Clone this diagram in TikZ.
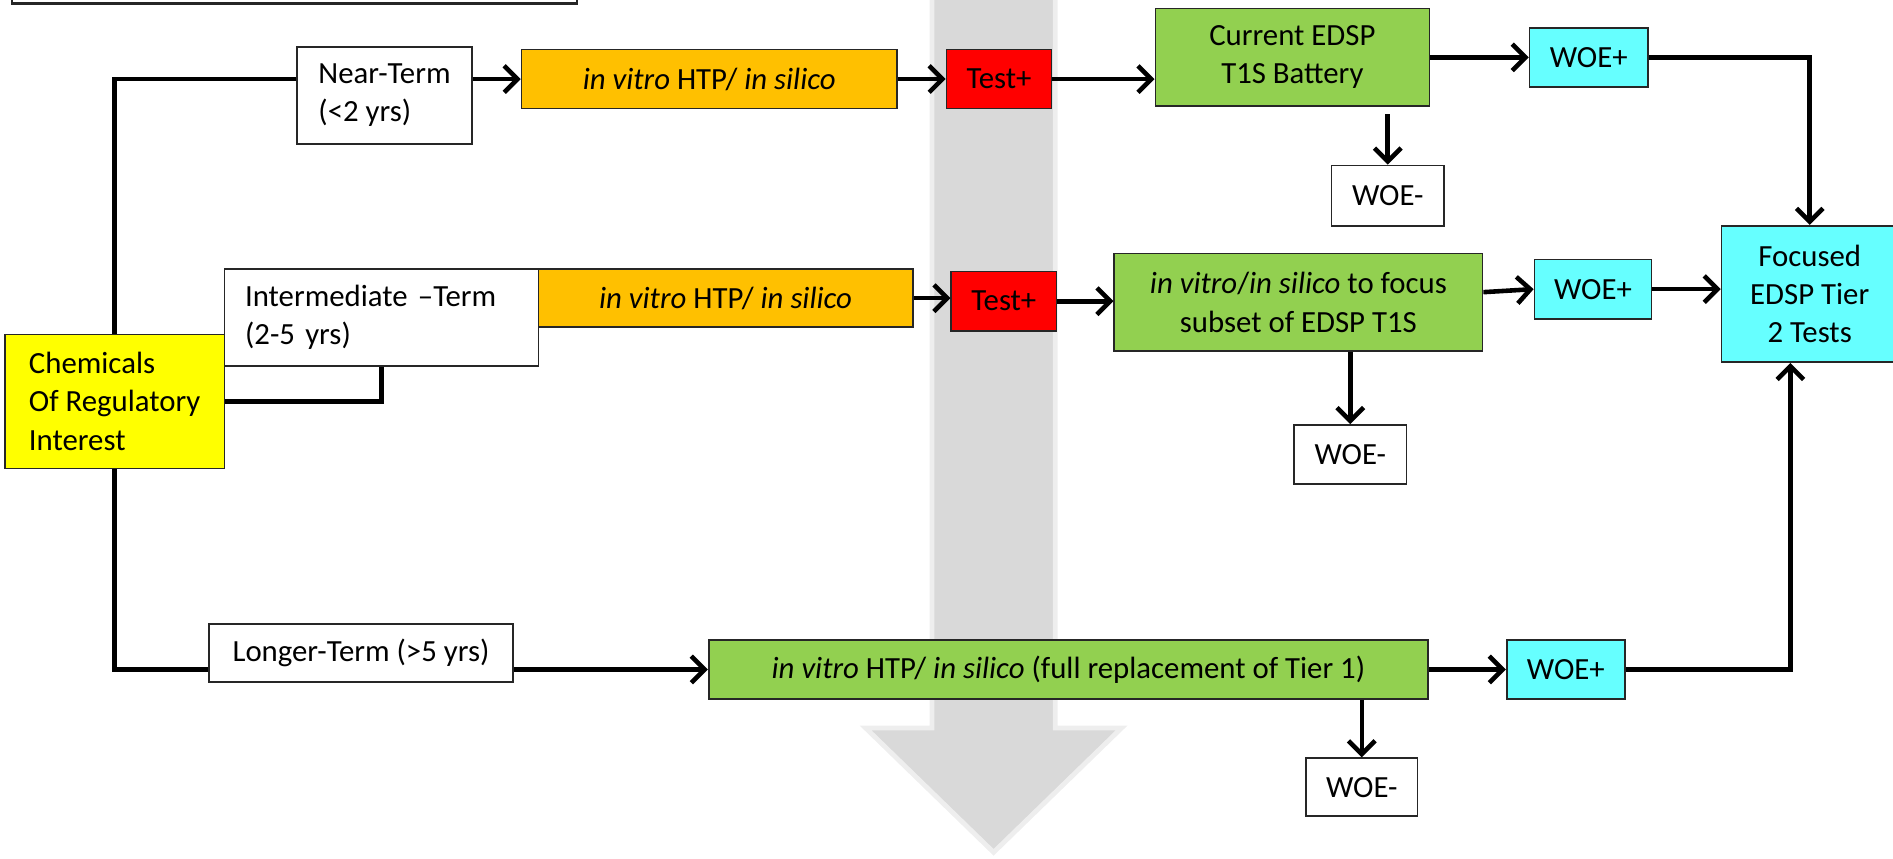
\documentclass[tikz,border=0pt]{standalone}
\usepackage{fontspec}
\setmainfont{Carlito}
\usetikzlibrary{arrows.meta,calc}
\definecolor{cyel}{HTML}{FFFF00}
\definecolor{corg}{HTML}{FFC000}
\definecolor{cred}{HTML}{FF0000}
\definecolor{cgrn}{HTML}{92D050}
\definecolor{ccyn}{HTML}{66FFFF}
\definecolor{cgry}{HTML}{D9D9D9}
\definecolor{cgryb}{HTML}{EEEEEE}
\begin{document}
\begin{tikzpicture}[x=0.5pt,y=-0.5pt,
  box/.style={draw=black!85, line width=0.7pt, inner sep=0pt, align=center, font=\fontsize{12.75}{15.8}\selectfont},
  arr/.style={line width=1.9pt, -{Straight Barb[length=5.5pt,width=11pt]}},
  ln/.style={line width=1.9pt},
  bigarrow/.style={fill=cgry, draw=cgryb, line width=2pt},
]
\useasboundingbox (0,0) rectangle (1568,711);
\clip (0,0) rectangle (1568,711);
% background gray arrow
\draw[bigarrow] (772,-20) -- (772,603) -- (717,603) -- (823,706) -- (929,603) -- (874,603) -- (874,-20) -- cycle;
% partial box at the top
\draw[line width=1pt, draw=black!85] (10,-20) rectangle (478,3);

% nodes
\node[box, fill=cyel, minimum width=91pt, minimum height=55.5pt, align=left] (chem) at (95,332.5) {Chemicals\\Of Regulatory\\Interest};
\node[box, fill=white, minimum width=72.5pt, minimum height=40pt, align=left] (near) at (318.5,79) {Near-Term\\(<2 yrs)};
\node[box, fill=corg, minimum width=155.5pt, minimum height=24.5pt] (or1) at (587.5,65.5) {\textit{in vitro} HTP/ \textit{in silico}};
\node[box, fill=cred, minimum width=43.5pt, minimum height=24.5pt] (t1) at (827.5,65.5) {Test+};
\node[box, fill=cgrn, minimum width=113.5pt, minimum height=40.5pt] (cur) at (1070.5,47.5) {Current EDSP\\T1S Battery};
\node[box, fill=ccyn, minimum width=49pt, minimum height=24.5pt] (wp1) at (1316,47.5) {WOE+};
\node[box, fill=white, minimum width=46.5pt, minimum height=25pt] (wm1) at (1149.5,162) {WOE-};
\node[box, fill=ccyn, minimum width=73pt, minimum height=56.5pt] (foc) at (1499,243.5) {Focused\\EDSP Tier\\2 Tests};
\node[box, fill=ccyn, minimum width=48.5pt, minimum height=24.5pt] (wp2) at (1319.5,239.5) {WOE+};
\node[box, fill=cgrn, minimum width=152.5pt, minimum height=40.5pt] (gr2) at (1075.5,250.5) {\textit{in vitro}/\textit{in silico} to focus\\subset of EDSP T1S};
\node[box, fill=white, minimum width=46.5pt, minimum height=24.5pt] (wm2) at (1118.5,376.5) {WOE-};
\node[box, fill=cred, minimum width=43.5pt, minimum height=24.5pt] (t2) at (831.5,249.5) {Test+};
\node[box, fill=white, minimum height=40pt, text width=113pt, inner xsep=8.5pt, align=left] (inter) at (316,263) {Intermediate –Term\\(2-5 yrs)};
\node[box, fill=corg, minimum width=155pt, minimum height=24pt] (or2) at (601,247) {\textit{in vitro} HTP/ \textit{in silico}};
\node[box, fill=white, minimum width=126pt, minimum height=24pt] (longer) at (299,541) {Longer-Term (>5 yrs)};
\node[box, fill=cgrn, minimum width=298pt, minimum height=24.5pt] (gr3) at (885,554.5) {\textit{in vitro} HTP/ \textit{in silico} (full replacement of Tier 1)};
\node[box, fill=ccyn, minimum width=49pt, minimum height=24.5pt] (wp3) at (1297,554.5) {WOE+};
\node[box, fill=white, minimum width=46pt, minimum height=24pt] (wm3) at (1128,652) {WOE-};

% connectors
\draw[ln] (chem.north) |- (near.west |- or1.west);
\draw[arr] (near.east |- or1.west) -- (or1.west);
\draw[arr] (or1.east) -- (t1.west);
\draw[arr] (t1.east) -- (t1.east -| cur.west);
\draw[arr] (cur.east) -- (wp1.west);
\draw[arr] ($(cur.south -| wm1.north)+(0,6)$) -- (wm1.north);
\draw[arr] (wp1.east) -| (foc.north);
\draw[arr] ([yshift=4.25pt]gr2.east) -- (wp2.west);
\draw[arr] (wp2.east) -- (wp2.east -| foc.west);
\draw[arr] (gr2.south -| wm2.north) -- (wm2.north);
\draw[arr] (t2.east) -- (t2.east -| gr2.west);
\draw[arr] (or2.east) -- (or2.east -| t2.west);
\draw[ln] (chem.east) -| (inter.south);
\draw[ln] (chem.south) |- (longer.west |- gr3.west);
\draw[arr] (longer.east |- gr3.west) -- (gr3.west);
\draw[arr] (gr3.east) -- (wp3.west);
\draw[arr] (wp3.east) -| ([xshift=-8pt]foc.south);
\draw[arr] (gr3.south -| wm3.north) -- (wm3.north);
\end{tikzpicture}
\end{document}
